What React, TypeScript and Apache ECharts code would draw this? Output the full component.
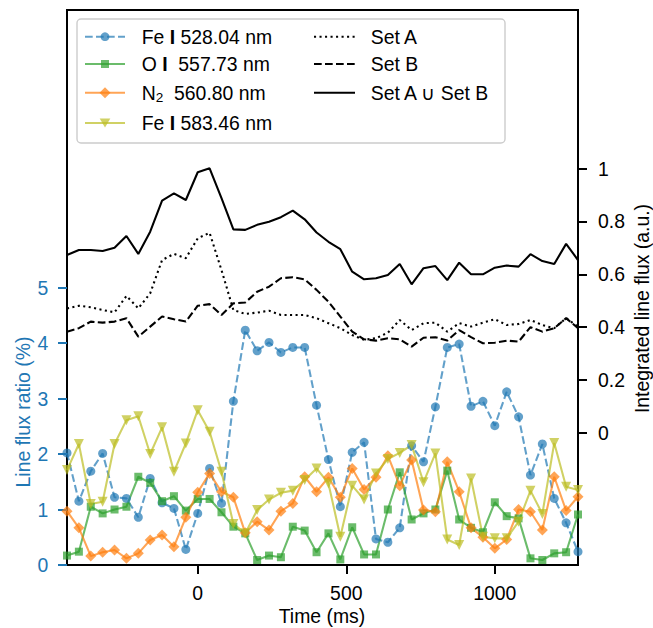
import React, { useEffect, useRef } from 'react';
import * as echarts from 'echarts';

const times = [-440, -400, -360, -320, -280, -240, -200, -160, -120, -80, -40, 0, 40, 80, 120, 160, 200, 240, 280, 320, 360, 400, 440, 480, 520, 560, 600, 640, 680, 720, 760, 800, 840, 880, 920, 960, 1000, 1040, 1080, 1120, 1160, 1200, 1240, 1280];

const feI528 = [2.02, 1.15, 1.69, 2.01, 1.22, 1.2, 0.86, 1.56, 1.12, 1.02, 0.28, 0.93, 1.74, 1.11, 2.95, 4.23, 3.86, 4.01, 3.83, 3.92, 3.92, 2.88, 1.9, 1.05, 2.03, 2.21, 0.47, 0.41, 0.67, 2.15, 1.86, 2.85, 3.92, 3.98, 2.86, 2.95, 2.51, 3.12, 2.67, 1.62, 2.18, 1.2, 0.76, 0.24];
const oI557 = [0.17, 0.24, 1.05, 0.93, 1.0, 1.05, 1.59, 1.48, 1.15, 1.24, 0.98, 1.19, 1.19, 0.95, 0.69, 0.57, 0.09, 0.17, 0.14, 0.69, 0.62, 0.23, 0.57, 0.1, 0.68, 0.19, 0.19, 1.0, 1.67, 0.82, 0.93, 1.0, 1.7, 0.82, 0.67, 0.59, 1.13, 0.88, 0.84, 0.12, 0.09, 0.21, 0.23, 0.91];
const n2560 = [0.97, 0.67, 0.16, 0.23, 0.27, 0.12, 0.21, 0.45, 0.54, 0.33, 0.86, 1.31, 1.65, 1.32, 1.22, 0.58, 0.78, 0.63, 0.97, 1.11, 1.59, 1.32, 1.58, 1.22, 1.74, 1.36, 1.58, 1.97, 1.43, 1.89, 0.99, 0.96, 1.86, 1.32, 0.67, 0.5, 0.3, 0.46, 1.0, 0.96, 0.63, 1.59, 0.98, 1.23];
const feI583 = [1.71, 2.18, 1.1, 1.14, 2.18, 2.61, 2.68, 2.0, 2.48, 1.68, 2.19, 2.79, 2.4, 1.68, 0.74, 0.57, 0.99, 1.18, 1.3, 1.34, 1.53, 1.74, 1.47, 0.51, 1.43, 1.18, 1.65, 1.91, 2.02, 2.16, 1.49, 2.01, 0.46, 0.36, 1.56, 0.51, 0.48, 0.48, 0.78, 1.34, 0.92, 2.2, 1.41, 1.35];

const setA = [0.471, 0.481, 0.475, 0.465, 0.456, 0.518, 0.471, 0.528, 0.654, 0.677, 0.661, 0.736, 0.757, 0.616, 0.465, 0.45, 0.455, 0.462, 0.446, 0.446, 0.446, 0.434, 0.415, 0.396, 0.37, 0.352, 0.358, 0.379, 0.427, 0.389, 0.415, 0.417, 0.383, 0.415, 0.402, 0.417, 0.43, 0.408, 0.412, 0.427, 0.408, 0.396, 0.434, 0.402];
const setB = [0.383, 0.396, 0.421, 0.417, 0.421, 0.434, 0.364, 0.402, 0.44, 0.43, 0.421, 0.481, 0.487, 0.446, 0.49, 0.493, 0.534, 0.553, 0.585, 0.589, 0.581, 0.541, 0.496, 0.44, 0.383, 0.354, 0.349, 0.358, 0.354, 0.326, 0.36, 0.362, 0.349, 0.389, 0.362, 0.339, 0.341, 0.349, 0.345, 0.4, 0.383, 0.396, 0.434, 0.396];
const setAB = [0.673, 0.692, 0.692, 0.688, 0.7, 0.745, 0.677, 0.761, 0.879, 0.906, 0.881, 0.986, 1.001, 0.888, 0.77, 0.768, 0.787, 0.799, 0.816, 0.841, 0.808, 0.758, 0.723, 0.695, 0.61, 0.581, 0.585, 0.597, 0.639, 0.562, 0.623, 0.631, 0.578, 0.644, 0.6, 0.6, 0.625, 0.633, 0.629, 0.676, 0.65, 0.639, 0.715, 0.654];

const xTicks = [0, 500, 1000];
const leftTicks = [0, 1, 2, 3, 4, 5];
const rightTicks = [0, 0.2, 0.4, 0.6, 0.8, 1];

const FONT = '"Liberation Sans", Arial, Helvetica, sans-serif';
const FS = 19.4;
const BLUE = '#1f77b4';
const GREEN = '#2ca02c';
const ORANGE = '#ff7f0e';
const OLIVE = '#bcbd22';
const ALPHA = 0.7;
const LW = 2.08;
const DASH = [7.7, 3.3];
const DOT = [2.08, 3.43];

const pairs = (vals: number[]) => times.map((t, i) => [t, vals[i]]);

function colorSeries(name: string, vals: number[], color: string, symbol: string, size: number, dash: any, rotate = 0) {
  return {
    name,
    type: 'line',
    xAxisIndex: 0,
    yAxisIndex: 0,
    data: pairs(vals),
    symbol,
    symbolSize: size,
    symbolRotate: rotate,
    showSymbol: true,
    lineStyle: { color, width: LW, type: dash, opacity: ALPHA },
    itemStyle: { color, opacity: ALPHA, borderWidth: 0 },
    emphasis: { disabled: true },
    silent: true,
    z: 2,
  };
}

function blackSeries(name: string, vals: number[], dash: any) {
  return {
    name,
    type: 'line',
    xAxisIndex: 0,
    yAxisIndex: 1,
    data: pairs(vals),
    symbol: 'none',
    showSymbol: false,
    lineStyle: { color: '#000', width: LW, type: dash },
    emphasis: { disabled: true },
    silent: true,
    z: 3,
  };
}

const rowY = [36.7, 64, 92.7, 123];
const col1Line = [85, 125];
const col1Text = 141.7;
const col2Line = [314, 355];
const col2Text = 370.7;

const txt = { fontSize: FS, fontFamily: FONT, fill: '#000' };

function legendGraphics() {
  const g: any[] = [];
  g.push({
    type: 'rect', z: 100,
    shape: { x: 77, y: 19, width: 428, height: 124, r: 4 },
    style: { fill: 'rgba(255,255,255,0.8)', stroke: '#cccccc', lineWidth: 1.4 },
  });
  const handle = (y: number, color: string, dash: any, opacity: number, xs: number[]) => ({
    type: 'line', z: 101,
    shape: { x1: xs[0], y1: y, x2: xs[1], y2: y },
    style: { stroke: color, lineWidth: LW, lineDash: dash, opacity },
  });
  const mx = (col1Line[0] + col1Line[1]) / 2;
  g.push(handle(rowY[0], BLUE, DASH, ALPHA, col1Line));
  g.push({ type: 'circle', z: 102, shape: { cx: mx, cy: rowY[0], r: 4.4 }, style: { fill: BLUE, opacity: ALPHA } });
  g.push(handle(rowY[1], GREEN, null, ALPHA, col1Line));
  g.push({ type: 'rect', z: 102, shape: { x: mx - 4, y: rowY[1] - 4, width: 8, height: 8 }, style: { fill: GREEN, opacity: ALPHA } });
  g.push(handle(rowY[2], ORANGE, null, ALPHA, col1Line));
  g.push({ type: 'polygon', z: 102, shape: { points: [[mx, rowY[2] - 5.5], [mx + 5.5, rowY[2]], [mx, rowY[2] + 5.5], [mx - 5.5, rowY[2]]] }, style: { fill: ORANGE, opacity: ALPHA } });
  g.push(handle(rowY[3], OLIVE, null, ALPHA, col1Line));
  g.push({ type: 'polygon', z: 102, shape: { points: [[mx - 5.3, rowY[3] - 4.6], [mx + 5.3, rowY[3] - 4.6], [mx, rowY[3] + 4.6]] }, style: { fill: OLIVE, opacity: ALPHA } });

  const rich = {
    a: { fontSize: FS, fontFamily: FONT, fill: '#000', lineHeight: 24 },
    b: { fontSize: FS, fontFamily: FONT, fill: '#000', fontWeight: 'bold', lineHeight: 24 },
    s: { fontSize: 13.6, fontFamily: FONT, fill: '#000', lineHeight: 15.6, verticalAlign: 'bottom' },
  };
  const label = (x: number, y: number, text: string) => ({
    type: 'text', z: 102, x, y,
    style: { text, rich, ...txt, align: 'left', verticalAlign: 'middle' },
  });
  g.push(label(col1Text, rowY[0], '{a|Fe }{b|I}{a| 528.04 nm}'));
  g.push(label(col1Text, rowY[1], '{a|O }{b|I}{a|  557.73 nm}'));
  g.push(label(col1Text, rowY[2], '{a|N}{s|2}{a|  560.80 nm}'));
  g.push(label(col1Text, rowY[3], '{a|Fe }{b|I}{a| 583.46 nm}'));

  g.push(handle(rowY[0], '#000', DOT, 1, col2Line));
  g.push(handle(rowY[1], '#000', DASH, 1, col2Line));
  g.push(handle(rowY[2], '#000', null, 1, col2Line));
  g.push(label(col2Text, rowY[0], '{a|Set A}'));
  g.push(label(col2Text, rowY[1], '{a|Set B}'));
  g.push(label(col2Text, rowY[2], '{a|Set A ∪ Set B}'));
  return g;
}

function axisNames() {
  return [
    {
      type: 'text', z: 50, x: 22.5, y: 412, rotation: Math.PI / 2,
      style: { text: 'Line flux ratio (%)', fontSize: FS, fontFamily: FONT, fill: BLUE, align: 'center', verticalAlign: 'middle' },
    },
    {
      type: 'text', z: 50, x: 641.7, y: 308.5, rotation: Math.PI / 2,
      style: { text: 'Integrated line flux (a.u.)', fontSize: FS, fontFamily: FONT, fill: '#000', align: 'center', verticalAlign: 'middle' },
    },
    {
      type: 'text', z: 50, x: 322, y: 616,
      style: { text: 'Time (ms)', fontSize: FS, fontFamily: FONT, fill: '#000', align: 'center', verticalAlign: 'middle' },
    },
  ];
}

export default function App() {
  const ref = useRef<HTMLDivElement>(null);
  useEffect(() => {
    const chart = echarts.init(ref.current!, null, { renderer: 'svg' });
    const option: any = {
      animation: false,
      backgroundColor: '#ffffff',
      grid: { left: 67, right: 75, top: 10, bottom: 63, show: true, borderColor: '#000', borderWidth: 2, backgroundColor: 'transparent', containLabel: false },
      xAxis: {
        type: 'value', min: -440, max: 1280, position: 'bottom',
        axisLine: { show: false, onZero: false },
        splitLine: { show: false },
        axisTick: { show: true, inside: false, customValues: xTicks, length: 9, lineStyle: { color: '#000', width: 2 } },
        axisLabel: { customValues: xTicks, color: '#000', fontSize: FS, fontFamily: FONT, margin: 28, verticalAlign: 'middle', formatter: (v: number) => String(v) },
      },
      yAxis: [
        {
          type: 'value', min: 0, max: 10, position: 'left',
          axisLine: { show: false, onZero: false },
          splitLine: { show: false },
          axisTick: { show: true, customValues: leftTicks, length: 9, lineStyle: { color: BLUE, width: 2 } },
          axisLabel: { customValues: leftTicks, color: BLUE, fontSize: FS, fontFamily: FONT, margin: 18.7, formatter: (v: number) => String(v) },
        },
        {
          type: 'value', min: -0.5, max: 1.6, position: 'right',
          axisLine: { show: false, onZero: false },
          splitLine: { show: false },
          axisTick: { show: true, customValues: rightTicks, length: 9, lineStyle: { color: '#000', width: 2 } },
          axisLabel: { customValues: rightTicks, color: '#000', fontSize: FS, fontFamily: FONT, margin: 20, formatter: (v: number) => String(Math.round(v * 10) / 10) },
        },
      ],
      series: [
        colorSeries('Fe I 528.04 nm', feI528, BLUE, 'circle', 9, DASH),
        colorSeries('O I 557.73 nm', oI557, GREEN, 'rect', 8, 'solid'),
        colorSeries('N2 560.80 nm', n2560, ORANGE, 'diamond', 11, 'solid'),
        colorSeries('Fe I 583.46 nm', feI583, OLIVE, 'triangle', 10, 'solid', 180),
        blackSeries('Set A', setA, DOT),
        blackSeries('Set B', setB, DASH),
        blackSeries('Set A ∪ Set B', setAB, 'solid'),
      ],
      graphic: [...legendGraphics(), ...axisNames()],
    };
    chart.setOption(option);
    return () => chart.dispose();
  }, []);
  return <div ref={ref} style={{ position: 'fixed', left: 0, top: 0, width: 653, height: 628 }} />;
}
